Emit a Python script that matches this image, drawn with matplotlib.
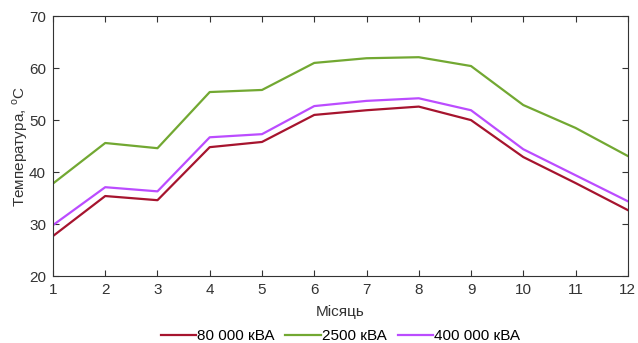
import matplotlib
matplotlib.use('Agg')
import matplotlib.pyplot as plt

months = [1, 2, 3, 4, 5, 6, 7, 8, 9, 10, 11, 12]
t_80000 = [27.7, 35.4, 34.6, 44.8, 45.8, 51.0, 51.9, 52.6, 50.0, 42.9, 37.9, 32.7]
t_2500 = [37.8, 45.6, 44.6, 55.4, 55.8, 61.0, 61.9, 62.1, 60.4, 52.9, 48.5, 43.1]
t_400000 = [29.8, 37.1, 36.3, 46.7, 47.3, 52.7, 53.7, 54.2, 51.9, 44.4, 39.4, 34.4]

plt.rcParams['font.family'] = ['Liberation Sans', 'DejaVu Sans']
plt.rcParams['mathtext.fontset'] = 'custom'
plt.rcParams['mathtext.rm'] = 'Liberation Sans'
plt.rcParams['font.size'] = 11

fig = plt.figure(figsize=(6.38, 3.43), dpi=100)
ax = fig.add_axes([0.083, 0.195, 0.901, 0.758])

ax.plot(months, t_80000, color='#a6142e', lw=1.6, label='80 000 кВА')
ax.plot(months, t_2500, color='#72a832', lw=1.6, label='2500 кВА')
ax.plot(months, t_400000, color='#bb4cff', lw=1.6, label='400 000 кВА')

ax.set_xlim(1, 12)
ax.set_ylim(20, 70)
ax.set_xticks(months)
ax.set_yticks([20, 30, 40, 50, 60, 70])
ax.tick_params(direction='in', top=True, right=True, length=4, pad=5,
               colors='#333333', labelcolor='#333333')
for s in ax.spines.values():
    s.set_color('#333333')

ax.set_xlabel('Місяць', color='#333333', labelpad=6)
ax.set_ylabel('Температура, $^{\\rm o}$C', color='#333333', labelpad=-1)

ax.legend(loc='upper center', bbox_to_anchor=(0.5, -0.18), ncol=3, frameon=False,
          handlelength=2.3, columnspacing=0.7, handletextpad=0.1, borderaxespad=0)

fig.savefig('out.png', dpi=100)
